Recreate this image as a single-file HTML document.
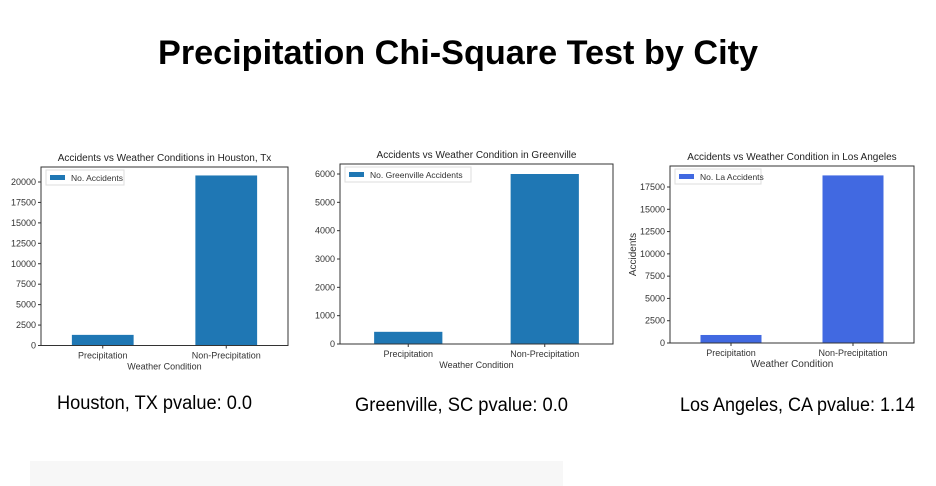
<!DOCTYPE html>
<html><head><meta charset="utf-8"><style>
body{margin:0;width:936px;height:486px;background:#fff;overflow:hidden;font-family:"Liberation Sans",sans-serif}
svg{position:absolute;left:0;top:0}
</style></head><body>
<svg id="s" width="936" height="486">
<text x="458" y="64" text-anchor="middle" font-size="34" font-weight="bold" textLength="600" lengthAdjust="spacingAndGlyphs" fill="#000">Precipitation Chi-Square Test by City</text>
<text x="57" y="409" font-size="19" textLength="195" lengthAdjust="spacingAndGlyphs" fill="#000">Houston, TX pvalue: 0.0</text>
<text x="355" y="411" font-size="19" textLength="213" lengthAdjust="spacingAndGlyphs" fill="#000">Greenville, SC pvalue: 0.0</text>
<text x="680" y="411" font-size="19" textLength="235" lengthAdjust="spacingAndGlyphs" fill="#000">Los Angeles, CA pvalue: 1.14</text>
<rect x="30" y="461" width="533" height="25" fill="#f7f7f7"/>
</svg>
<script>
const categories=["Precipitation","Non-Precipitation"];
const houstonValues=[1300,20800];
const greenvilleValues=[430,6000];
const laValues=[900,18800];
const houstonTicks=[0,2500,5000,7500,10000,12500,15000,17500,20000];
const greenvilleTicks=[0,1000,2000,3000,4000,5000,6000];
const laTicks=[0,2500,5000,7500,10000,12500,15000,17500];
const NS="http://www.w3.org/2000/svg";
const svg=document.getElementById('s');
function mk(tag,attrs,parent,text){const e=document.createElementNS(NS,tag);for(const k in attrs)e.setAttribute(k,attrs[k]);if(text!==undefined)e.textContent=text;(parent||svg).appendChild(e);return e;}
function chart(cfg){
 const g=mk('g',{});
 
 
 const {l,r,t,b,ymax,vals,ticks,color}=cfg;
 const y=v=>b-(v/ymax)*(b-t);
 const n=categories.length, w=(r-l)/n;
 const x=i=>l+w*(i+0.5);
 vals.forEach((v,i)=>{
  const bar=mk('rect',{x:x(i)-w*0.25,y:y(v),width:w*0.5,height:b-y(v),fill:color},g);
  
  
 });
 mk('rect',{x:l,y:t,width:r-l,height:b-t,fill:'none',stroke:'#333','stroke-width':1},g);
 ticks.forEach(tv=>{
  mk('line',{x1:l-3,x2:l,y1:y(tv),y2:y(tv),stroke:'#333'},g);
  const tl=mk('text',{x:l-5,y:y(tv)+3,'text-anchor':'end','font-size':9,fill:'#333'},g,String(tv));
  
  
 });
 categories.forEach((c,i)=>{
  mk('line',{x1:x(i),x2:x(i),y1:b,y2:b+3,stroke:'#333'},g);
  const tl=mk('text',{x:x(i),y:b+13,'text-anchor':'middle','font-size':9,fill:'#333'},g,c);
  
  
 });
 const xt=mk('text',{x:(l+r)/2,y:b+24,'text-anchor':'middle','font-size':cfg.xfs||9,fill:'#333'},g,'Weather Condition');
 
 
 const tt=mk('text',{x:(l+r)/2,y:t-6,'text-anchor':'middle','font-size':10,fill:'#222'},g,cfg.title);
 
 
 if(cfg.ylabel){const yl=mk('text',{x:0,y:0,transform:`translate(${l-34},${(t+b)/2}) rotate(-90)`,'text-anchor':'middle','font-size':10,fill:'#333'},g,cfg.ylabel);
  
  }
 const lg=mk('g',{},g);
 
 
 mk('rect',{x:l+5,y:t+3,width:cfg.lw,height:15,fill:'#fff',stroke:'#ddd'},lg);
 mk('rect',{x:l+9,y:t+8,width:15,height:5,fill:color},lg);
 mk('text',{x:l+30,y:t+14,'font-size':8.5,fill:'#333'},lg,cfg.legend);
}
chart({name:'houston-chart',l:41,r:288,t:167,b:345.5,ymax:20000*(345.5-167)/(345.5-182),vals:houstonValues,ticks:houstonTicks,color:'#1f77b4',title:'Accidents vs Weather Conditions in Houston, Tx',legend:'No. Accidents',lw:78});
chart({name:'greenville-chart',l:340,r:613,t:164,b:344,ymax:6000*(344-164)/(344-174),vals:greenvilleValues,ticks:greenvilleTicks,color:'#1f77b4',title:'Accidents vs Weather Condition in Greenville',legend:'No. Greenville Accidents',lw:126});
chart({name:'la-chart',l:670,r:914,t:166,b:343,ymax:17500*(343-166)/(343-187),vals:laValues,ticks:laTicks,color:'#4169e1',title:'Accidents vs Weather Condition in Los Angeles',legend:'No. La Accidents',lw:86,ylabel:'Accidents',xfs:10});
</script>
</body></html>
